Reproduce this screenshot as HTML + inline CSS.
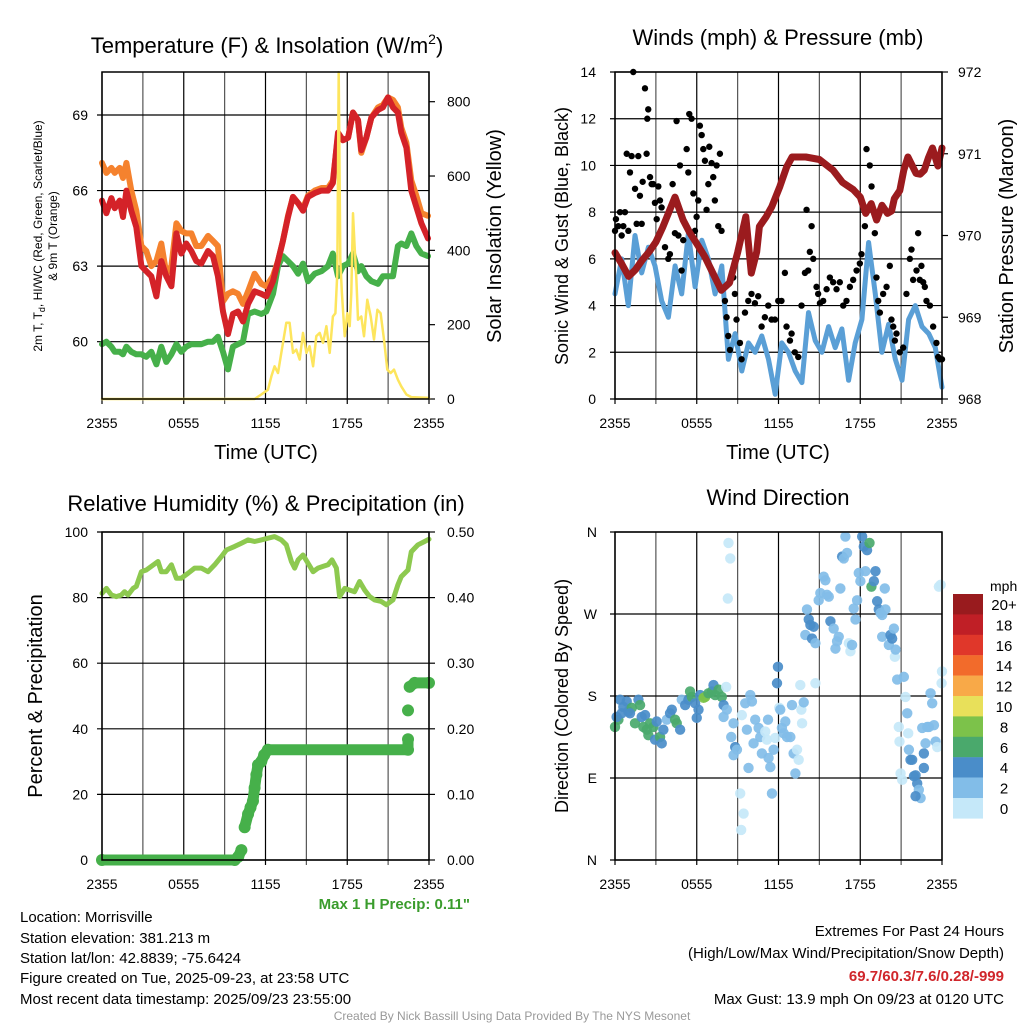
<!DOCTYPE html>
<html><head><meta charset="utf-8"><title>Mesonet Station Plots</title>
<style>
html,body{margin:0;padding:0;background:#fff;}
svg{display:block;font-family:"Liberation Sans",Arial,sans-serif;}
</style></head>
<body>
<svg id="chart" width="1024" height="1024" viewBox="0 0 1024 1024" xmlns="http://www.w3.org/2000/svg">
<rect x="0" y="0" width="1024" height="1024" fill="#fff"/>
<!-- titles -->
<text x="267" y="53" font-size="22" text-anchor="middle">Temperature (F) &amp; Insolation (W/m<tspan font-size="14" dy="-9">2</tspan><tspan dy="9">)</tspan></text>
<text x="778" y="45" font-size="22" text-anchor="middle">Winds (mph) &amp; Pressure (mb)</text>
<text x="266" y="511" font-size="22" text-anchor="middle">Relative Humidity (%) &amp; Precipitation (in)</text>
<text x="778" y="505" font-size="22" text-anchor="middle">Wind Direction</text>

<!-- axis titles -->
<text transform="translate(42,236) rotate(-90)" font-size="12" text-anchor="middle">2m T, T<tspan font-size="9" dy="3">d</tspan><tspan dy="-3">, HI/WC (Red, Green, Scarlet/Blue)</tspan></text>
<text transform="translate(57,236) rotate(-90)" font-size="12" text-anchor="middle">&amp; 9m T (Orange)</text>
<text transform="translate(501,236) rotate(-90)" font-size="20" text-anchor="middle">Solar Insolation (Yellow)</text>
<text transform="translate(568,236) rotate(-90)" font-size="18" text-anchor="middle">Sonic Wind &amp; Gust (Blue, Black)</text>
<text transform="translate(1013,236) rotate(-90)" font-size="20" text-anchor="middle">Station Pressure (Maroon)</text>
<text transform="translate(42,696) rotate(-90)" font-size="20" text-anchor="middle">Percent &amp; Precipitation</text>
<text transform="translate(568,696) rotate(-90)" font-size="18" text-anchor="middle">Direction (Colored By Speed)</text>
<text x="266" y="459" font-size="20" text-anchor="middle">Time (UTC)</text>
<text x="778" y="459" font-size="20" text-anchor="middle">Time (UTC)</text>

<text x="470" y="909" font-size="15" font-weight="bold" fill="#3a9c2c" text-anchor="end">Max 1 H Precip: 0.11"</text>

<g font-size="15">
<text x="20" y="922">Location: Morrisville</text>
<text x="20" y="943">Station elevation: 381.213 m</text>
<text x="20" y="963">Station lat/lon: 42.8839; -75.6424</text>
<text x="20" y="983">Figure created on Tue, 2025-09-23, at 23:58 UTC</text>
<text x="20" y="1004">Most recent data timestamp: 2025/09/23 23:55:00</text>
</g>
<g font-size="15" text-anchor="end">
<text x="1004" y="936">Extremes For Past 24 Hours</text>
<text x="1004" y="958">(High/Low/Max Wind/Precipitation/Snow Depth)</text>
<text x="1004" y="981" fill="#d0262b" font-weight="bold">69.7/60.3/7.6/0.28/-999</text>
<text x="1004" y="1004">Max Gust: 13.9 mph On 09/23 at 0120 UTC</text>
</g>
<text x="512" y="1020" font-size="12" fill="#999" text-anchor="middle">Created By Nick Bassill Using Data Provided By The NYS Mesonet</text>
</svg>
<script>
// ---------- DATA ----------
const xTickLabels = ["2355","0555","1155","1755","2355"];
// Temperature panel
const tempHours = [0,0.32,0.69,0.93,1.30,1.54,1.79,2.15,2.52,2.89,3.25,3.62,3.99,4.35,4.72,5.09,5.46,5.82,6.19,6.56,6.92,7.29,7.78,8.15,8.51,8.88,9.25,9.61,9.98,10.35,10.72,11.2,11.69,12.06,12.55,12.92,13.28,13.65,14.02,14.39,14.75,15.12,15.61,16.1,16.59,16.95,17.32,17.69,18.06,18.42,18.79,19.03,19.4,19.77,20.26,20.62,20.99,21.36,21.72,21.97,22.34,22.7,23.07,23.44,23.93];
const temp2m = [65.6,65.1,65.7,65.3,65.6,64.95,66.0,65.2,64.55,63.0,62.8,62.6,61.8,63.2,62.6,62.2,64.3,63.5,63.9,63.6,63.2,63.1,63.6,63.4,62.6,61.2,60.3,61.1,61.2,60.8,61.5,62.0,61.9,61.8,62.4,63.2,64.0,64.95,65.75,65.5,65.2,65.75,65.9,66.0,66.0,66.3,68.3,68.0,68.1,69.1,68.8,67.6,68.1,68.9,69.2,69.3,69.7,69.3,69.1,68.3,67.7,66.0,65.35,64.7,64.1];
const temp9m = [67.1,66.7,66.9,66.7,66.9,66.5,67.1,66.0,65.2,63.8,63.6,63.0,63.2,63.9,62.7,63.0,64.7,64.4,64.3,64.3,63.8,63.8,64.2,64.0,63.8,61.6,61.9,62.0,61.9,61.5,62.0,62.7,62.3,62.2,62.6,63.2,64.0,65.0,65.75,65.5,65.3,65.8,66.0,66.1,66.1,66.4,68.2,68.0,68.1,69.1,68.8,67.5,68.1,68.9,69.3,69.4,69.7,69.6,69.3,68.5,67.9,66.4,65.8,65.1,65.0];
const dewpoint = [59.9,60.0,59.8,59.6,59.6,59.5,59.8,59.6,59.5,59.5,59.4,59.6,59.1,59.8,59.2,59.5,59.9,59.6,59.8,59.9,59.9,59.9,60.0,60.0,60.2,59.6,58.9,59.8,59.9,60.0,61.1,61.2,61.1,61.2,61.9,63.0,63.4,63.2,63.0,62.7,63.1,62.4,62.7,62.8,63.0,63.5,62.6,63.0,63.1,63.5,62.8,63.0,62.6,62.4,62.3,62.6,62.6,62.6,63.8,63.9,63.8,64.3,63.8,63.5,63.4];
const solarHours = [0,11.2,11.69,12.18,12.43,12.67,12.92,13.16,13.53,13.77,14.02,14.26,14.51,14.75,15.0,15.24,15.49,15.73,15.98,16.22,16.47,16.71,16.95,17.13,17.27,17.37,17.49,17.61,17.81,18.0,18.18,18.3,18.42,18.54,18.67,18.79,19.03,19.23,19.47,19.72,19.96,20.21,20.45,20.7,20.94,21.19,21.43,21.72,21.97,22.34,22.7,23.93,24];
const solar = [0,0,12,25,61,88,70,124,205,205,124,133,106,178,124,142,88,169,178,151,196,124,222,231,339,879,375,285,169,231,196,285,500,411,321,213,222,169,267,222,160,240,231,160,79,70,79,52,34,12,5,3,2];
const tempTicks = [60,63,66,69];
const solarTicks = [0,200,400,600,800];
// Winds panel
const windSpeed = [4.5,6.0,4.0,7.0,5.4,6.5,5.7,4.2,3.5,5.7,4.5,7.1,4.8,6.8,6.0,4.5,5.7,1.7,2.8,1.2,2.4,2.0,2.7,1.7,0.2,2.4,2.0,1.2,0.7,3.7,2.5,2.0,3.1,2.2,3.0,0.8,2.4,3.4,6.7,4.5,2.0,3.2,1.7,0.8,3.4,4.0,3.1,2.8,2.2,0.5];
const gustHours = [0,0.07,0.24,0.37,0.49,0.61,0.73,0.86,0.98,1.10,1.22,1.34,1.47,1.59,1.71,1.83,1.96,2.03,2.20,2.32,2.37,2.44,2.57,2.69,2.81,2.93,3.06,3.18,3.30,3.42,3.67,3.91,4.03,4.23,4.40,4.52,4.65,4.77,4.89,5.01,5.26,5.38,5.45,5.62,5.75,5.87,5.99,6.11,6.23,6.36,6.48,6.60,6.72,6.85,6.92,7.09,7.21,7.33,7.46,7.58,7.70,7.82,8.07,8.19,8.31,8.44,8.68,8.80,8.92,9.17,9.29,9.54,9.78,10.02,10.27,10.51,10.76,11.00,11.25,11.49,11.74,11.98,12.22,12.47,12.59,12.84,12.96,13.20,13.45,13.69,13.94,14.06,14.18,14.30,14.43,14.55,14.79,14.91,15.04,15.28,15.53,15.77,16.01,16.26,16.50,16.75,16.99,17.24,17.48,17.73,17.97,18.09,18.34,18.46,18.70,18.83,18.95,19.07,19.19,19.32,19.44,19.68,19.93,20.17,20.29,20.42,20.54,20.66,20.90,21.15,21.39,21.64,21.76,21.88,22.13,22.25,22.37,22.49,22.62,22.74,22.86,23.11,23.35,23.59,23.72,23.84,24.0];
const gustSpeed = [7.2,7.7,7.4,8.0,7.0,7.4,8.0,10.5,7.2,9.7,10.4,14.0,9.0,7.5,10.4,8.7,7.5,9.3,13.3,10.5,12.0,12.4,9.5,9.2,9.2,8.4,7.7,9.1,8.5,8.2,6.5,6.0,6.2,9.2,7.1,11.9,7.0,10.0,5.5,6.8,10.7,9.7,12.2,12.0,8.8,7.2,7.8,8.5,11.7,11.3,10.7,10.2,8.1,9.2,10.8,10.1,9.5,8.5,10.0,7.4,10.5,7.2,4.2,3.5,2.7,2.1,5.2,4.5,3.4,2.4,1.7,3.7,4.2,4.5,4.1,4.4,3.1,3.5,4.0,3.4,3.4,4.2,4.2,5.4,3.1,2.5,2.8,2.0,1.8,4.0,5.4,8.1,5.5,6.3,7.4,6.0,4.8,4.5,4.1,4.2,4.7,5.2,5.0,4.7,5.0,4.0,4.2,4.8,5.1,5.5,5.8,6.2,7.4,10.7,10.0,9.1,8.1,7.1,5.2,4.2,3.7,4.5,4.8,5.7,3.4,3.1,2.5,2.8,2.0,2.2,4.5,6.0,6.4,5.1,5.5,7.1,5.1,5.7,5.0,4.8,4.2,4.0,3.1,2.4,1.8,1.7,1.7];
const pressHours = [0,0.5,1.0,1.5,2.0,2.5,3.0,3.5,4.4,5.0,5.5,6.0,6.6,7.3,7.8,8.4,9.0,9.6,10.0,10.4,10.6,11.1,11.5,12.1,12.6,13.0,14.0,15.0,16.0,16.7,17.5,18.0,18.4,18.8,19.2,19.6,20.0,20.3,20.5,20.9,21.2,21.5,22.1,22.4,22.7,23.0,23.3,23.7,24.0];
const pressure = [969.79,969.65,969.5,969.58,969.7,969.8,969.92,970.1,970.47,970.19,970.03,969.9,969.74,969.5,969.33,969.42,969.79,970.23,969.54,969.8,970.11,970.23,970.35,970.6,970.84,970.96,970.96,970.93,970.8,970.65,970.56,970.47,970.27,970.39,970.19,970.37,970.27,970.3,970.45,970.55,970.8,970.96,970.76,970.75,970.8,970.95,971.07,970.85,971.07];
const windTicks = [0,2,4,6,8,10,12,14];
const pressTicks = [968,969,970,971,972];
// Humidity panel
const rhHours = [0,0.32,0.69,1.05,1.42,1.66,1.91,2.28,2.52,2.89,3.25,3.62,4.11,4.35,4.72,5.09,5.46,5.82,6.31,6.8,7.29,7.78,8.27,8.76,9.13,9.74,10.23,10.72,11.2,11.69,12.18,12.67,13.16,13.53,13.9,14.14,14.39,14.75,15.12,15.49,15.85,16.22,16.59,16.88,17.2,17.44,17.81,18.18,18.54,18.91,19.28,19.65,20.01,20.5,20.87,21.36,21.72,21.97,22.46,22.7,23.19,23.68,24.0];
const rh = [81.3,82.8,80.8,80.3,80.8,81.8,80.8,82.8,83.4,87.9,88.4,89.5,91.0,87.9,87.9,90.0,85.9,85.9,87.4,89.0,89.0,87.9,90.0,92.5,94.5,95.6,96.6,97.6,97.1,97.6,98.1,98.6,97.6,96.1,91.0,89.0,91.5,93.0,90.5,87.9,89.0,89.5,90.0,91.5,89.0,80.3,82.8,82.3,81.8,84.9,82.3,80.3,79.3,78.8,77.8,79.3,83.9,86.4,88.4,94.0,96.1,97.1,97.8];
const precipHours = [0,9.74,10.0,10.23,10.47,10.72,10.9,11.08,11.2,11.33,11.45,11.69,11.9,12.18,22.46,22.46,22.46,22.58,22.95,24.0];
const precip = [0,0,0.005,0.015,0.05,0.07,0.08,0.09,0.11,0.13,0.145,0.15,0.16,0.168,0.168,0.184,0.228,0.264,0.27,0.27];
const rhTicks = [0,20,40,60,80,100];
const precipTicks = ["0.00","0.10","0.20","0.30","0.40","0.50"];
// Wind direction panel
const dirHours = [0,0.25,0.12,0.37,0.61,0.49,0.86,0.98,1.23,1.10,1.47,1.72,1.84,1.96,2.21,2.08,2.33,2.45,2.57,2.82,2.94,3.06,3.31,3.43,3.55,3.80,4.04,4.17,4.41,4.53,4.78,4.90,5.15,5.39,5.51,5.64,5.88,6.00,6.13,6.25,6.50,6.62,6.86,7.11,7.23,7.35,7.60,7.84,7.97,8.16,8.21,7.97,8.33,8.46,8.28,8.53,8.70,8.82,8.70,8.95,9.19,9.44,9.26,9.31,9.56,9.93,10.05,9.68,9.80,10.17,10.29,10.54,10.66,10.78,11.03,11.15,11.23,11.27,11.40,11.52,11.64,11.76,11.96,11.89,12.06,12.13,12.25,12.38,12.50,12.62,12.87,12.99,13.11,13.24,13.36,13.48,13.60,13.68,13.73,13.85,13.97,14.09,14.22,14.34,14.46,14.58,14.71,14.71,14.95,15.07,15.32,15.44,15.56,15.69,15.81,16.05,16.18,16.30,16.42,16.54,16.67,16.79,16.91,17.03,17.16,17.28,17.40,17.52,17.65,17.77,17.89,18.01,18.14,18.26,18.38,18.50,18.68,18.82,19.0,19.12,19.24,19.36,19.49,19.61,19.85,19.80,19.61,20.10,20.22,20.34,20.47,20.54,20.59,20.71,20.83,20.88,20.96,21.08,21.20,21.32,21.45,21.52,21.57,21.69,21.81,21.94,22.06,22.18,22.30,22.43,22.06,22.55,22.67,22.79,22.67,22.92,23.04,23.16,23.28,23.41,23.53,23.65,23.77,23.90,24.0,23.97];
const dirDeg = [146,154,157,176,168,161,174,163,167,161,150,176,170,157,159,146,143,137,150,146,132,152,135,128,143,154,161,165,154,150,143,176,170,176,185,179,172,156,165,181,178,179,183,185,192,181,187,179,170,190,165,157,348,331,287,135,150,124,115,121,73,51,33,159,172,181,174,143,101,128,154,145,135,117,141,132,154,112,102,73,121,134,212,194,167,165,145,139,152,135,135,170,117,95,121,110,192,165,150,173,247,275,264,258,243,256,238,194,285,293,311,307,291,289,262,254,232,240,245,298,333,331,355,337,238,229,236,276,264,285,315,306,355,344,317,340,348,300,306,317,284,275,271,269,275,298,245,236,247,243,254,223,231,198,146,130,95,88,201,179,161,139,121,110,110,92,93,84,77,68,70,145,117,128,101,146,146,183,172,148,130,124,300,302,207,194];
const dirSpeed = [7,7,5,5,5,5,5,5,7,5,7,5,7,5,5,7,7,7,7,7,5,5,7,5,5,3,5,5,7,7,5,3,5,5,7,7,5,5,5,5,9,9,7,7,5,7,7,7,5,1,3,3,1,1,1,3,3,5,3,3,1,1,1,1,3,3,3,3,3,3,3,3,3,3,1,1,3,3,3,3,3,1,5,5,1,3,3,3,3,3,3,3,3,3,1,1,1,1,1,3,3,3,5,5,5,5,3,1,3,3,3,3,3,3,5,3,3,3,3,3,5,3,3,3,1,1,3,3,3,3,3,3,5,5,3,5,7,7,5,5,5,5,3,3,3,3,3,3,5,5,3,1,3,3,1,1,1,1,3,1,3,1,3,5,5,5,5,5,3,3,5,3,5,3,5,3,3,3,3,3,3,1,1,1,1,1];
const dirTickLabels = ["N","E","S","W","N"];
const dirTickDeg = [0,90,180,270,360];
const legendLabels = ["20+","18","16","14","12","10","8","6","4","2","0"];
const legendColors = ["#991b1e","#c01f26","#e0372a","#f26b2b","#f8a948","#e8e05a","#7cc24a","#4aa96c","#4a8dc9","#82bde8","#c5e8f9"];

// ---------- DRAWING ----------
const NS = "http://www.w3.org/2000/svg";
const svg = document.getElementById("chart");
function mk(tag, attrs, parent){
  const e = document.createElementNS(NS, tag);
  for (const k in attrs) e.setAttribute(k, attrs[k]);
  (parent||svg).appendChild(e);
  return e;
}
function scale(d0,d1,r0,r1){ return v => r0 + (v-d0)*(r1-r0)/(d1-d0); }
function frame(name, x0, y0, x1, y1){
  const g = mk("g", {});
  
  
  for (let i=0;i<=8;i++){
    const x = x0 + (x1-x0)*i/8;
    const l = mk("line",{x1:x,y1:y0,x2:x,y2:y1+5,stroke:(i%2===0?"#000":"#555"),"stroke-width":1.2},g);
    
    
  }
  for (let i=0;i<xTickLabels.length;i++){
    const t = mk("text",{x:x0+(x1-x0)*i/4,y:y1+29,"font-size":14,"text-anchor":"middle"},g);
    t.textContent = xTickLabels[i];
    
    
  }
  return g;
}
function border(x0,y0,x1,y1){
  const r = mk("rect",{x:x0,y:y0,width:x1-x0,height:y1-y0,fill:"none",stroke:"#000","stroke-width":1.5});
  
  
}
function hgrid(g, ys, x0, x1){
  ys.forEach(y=>{
    const l = mk("line",{x1:x0-5,y1:y,x2:x1,y2:y,stroke:"#000","stroke-width":1.2},g);
    
    
  });
}
function ylabels(g, vals, texts, sy, x, anchor, ticksx, dir){
  vals.forEach((v,i)=>{
    const y = sy(v);
    const t = mk("text",{x:x,y:y+5,"font-size":14,"text-anchor":anchor},g);
    t.textContent = texts[i];
    
    
    if (ticksx!==undefined){
      const l = mk("line",{x1:ticksx,y1:y,x2:ticksx+dir*6,y2:y,stroke:"#000","stroke-width":1.2},g);
      
      
    }
  });
}
function path(xs, ys, sx, sy, color, w, name, opacity){
  let d = "";
  for (let i=0;i<xs.length;i++) d += (i?"L":"M") + sx(xs[i]).toFixed(1) + "," + sy(ys[i]).toFixed(1);
  const p = mk("path",{d:d,fill:"none",stroke:color,"stroke-width":w,"stroke-linejoin":"round","stroke-linecap":"round","stroke-opacity":opacity||1});
  
  
  return p;
}

// Panel 1: temperature
(function(){
  const x0=102,x1=429,y0=72,y1=399;
  const sx = scale(0,24,x0,x1);
  const syL = scale(60,69,341.7,115);
  const syR = scale(0,800,399,101.7);
  const g = frame("temperature-panel",x0,y0,x1,y1);
  hgrid(g, tempTicks.map(syL), x0, x1);
  ylabels(g, tempTicks, tempTicks.map(String), syL, 88, "end");
  ylabels(g, solarTicks, solarTicks.map(String), syR, 447, "start", x1, 1);
  path(tempHours, dewpoint, sx, syL, "#46b04a", 6, "dewpoint-line");
  path(tempHours, temp9m, sx, syL, "#f5822e", 6, "temp-9m-line");
  path(tempHours, temp2m, sx, syL, "#d42228", 6, "temp-2m-line");
  path(solarHours, solar, sx, syR, "#fde55d", 2.5, "solar-line");
  border(x0,y0,x1,y1);
})();

// Panel 2: winds & pressure
(function(){
  const x0=615,x1=942,y0=72,y1=399;
  const sx = scale(0,24,x0,x1);
  const syL = scale(0,14,399,72);
  const syR = scale(968,972,399,72);
  const g = frame("winds-panel",x0,y0,x1,y1);
  hgrid(g, windTicks.map(syL), x0, x1);
  ylabels(g, windTicks, windTicks.map(String), syL, 596, "end");
  ylabels(g, pressTicks, pressTicks.map(String), syR, 958, "start", x1, 1);
  const ws = windSpeed.map((v,i)=> i*24/(windSpeed.length-1));
  path(ws, windSpeed, sx, syL, "#5a9fd6", 5, "sonic-wind-line");
  const gg = mk("g",{});
  
  
  for (let i=0;i<gustHours.length;i++){
    const c = mk("circle",{cx:sx(gustHours[i]),cy:syL(gustSpeed[i]),r:3.2,fill:"#000"},gg);
    
    
  }
  path(pressHours, pressure, sx, syR, "#9b1b1e", 7, "pressure-line");
  border(x0,y0,x1,y1);
})();

// Panel 3: RH & precipitation
(function(){
  const x0=102,x1=429,y0=532,y1=860;
  const sx = scale(0,24,x0,x1);
  const syL = scale(0,100,860,532);
  const syR = scale(0,0.5,860,532);
  const g = frame("humidity-panel",x0,y0,x1,y1);
  hgrid(g, rhTicks.map(syL), x0, x1);
  ylabels(g, rhTicks, rhTicks.map(String), syL, 88, "end");
  ylabels(g, precipTicks.map(Number), precipTicks, syR, 447, "start", x1, 1);
  path(rhHours, rh, sx, syL, "#8dc94f", 5, "humidity-line");
  const pg = mk("g",{});
  
  
  for (let i=0;i<precipHours.length;i++){
    if (i>0 && Math.abs(precip[i]-precip[i-1])<0.03){
      const l = mk("line",{x1:sx(precipHours[i-1]),y1:syR(precip[i-1]),x2:sx(precipHours[i]),y2:syR(precip[i]),stroke:"#46b04a","stroke-width":11,"stroke-linecap":"round"},pg);
      
      
    }
    const c = mk("circle",{cx:sx(precipHours[i]),cy:syR(precip[i]),r:6,fill:"#46b04a"},pg);
    
    
  }
  border(x0,y0,x1,y1);
})();

// Panel 4: wind direction
(function(){
  const x0=615,x1=942,y0=532,y1=860;
  const sx = scale(0,24,x0,x1);
  const sy = scale(0,360,860,532);
  const g = frame("wind-direction-panel",x0,y0,x1,y1);
  hgrid(g, dirTickDeg.map(sy), x0, x1);
  ylabels(g, dirTickDeg, dirTickLabels, sy, 597, "end");
  const dg = mk("g",{});
  
  
  for (let i=0;i<dirHours.length;i++){
    const bin = Math.min(10, Math.floor(dirSpeed[i]/2));
    const c = mk("circle",{cx:sx(dirHours[i]),cy:sy(dirDeg[i]),r:5.2,fill:legendColors[10-bin],"fill-opacity":0.92},dg);
    
    
  }
  border(x0,y0,x1,y1);
  // colorbar legend
  const lg = mk("g",{});
  
  
  const t = mk("text",{x:990,y:591,"font-size":14},lg);
  t.textContent = "mph";
  
  
  for (let i=0;i<legendLabels.length;i++){
    const y = 594 + i*20.4;
    const r = mk("rect",{x:953,y:y,width:30,height:20.6,fill:legendColors[i]},lg);
    
    
    const tx = mk("text",{x:1004,y:y+16,"font-size":15,"text-anchor":"middle"},lg);
    tx.textContent = legendLabels[i];
    
    
  }
})();
</script>
</body></html>
